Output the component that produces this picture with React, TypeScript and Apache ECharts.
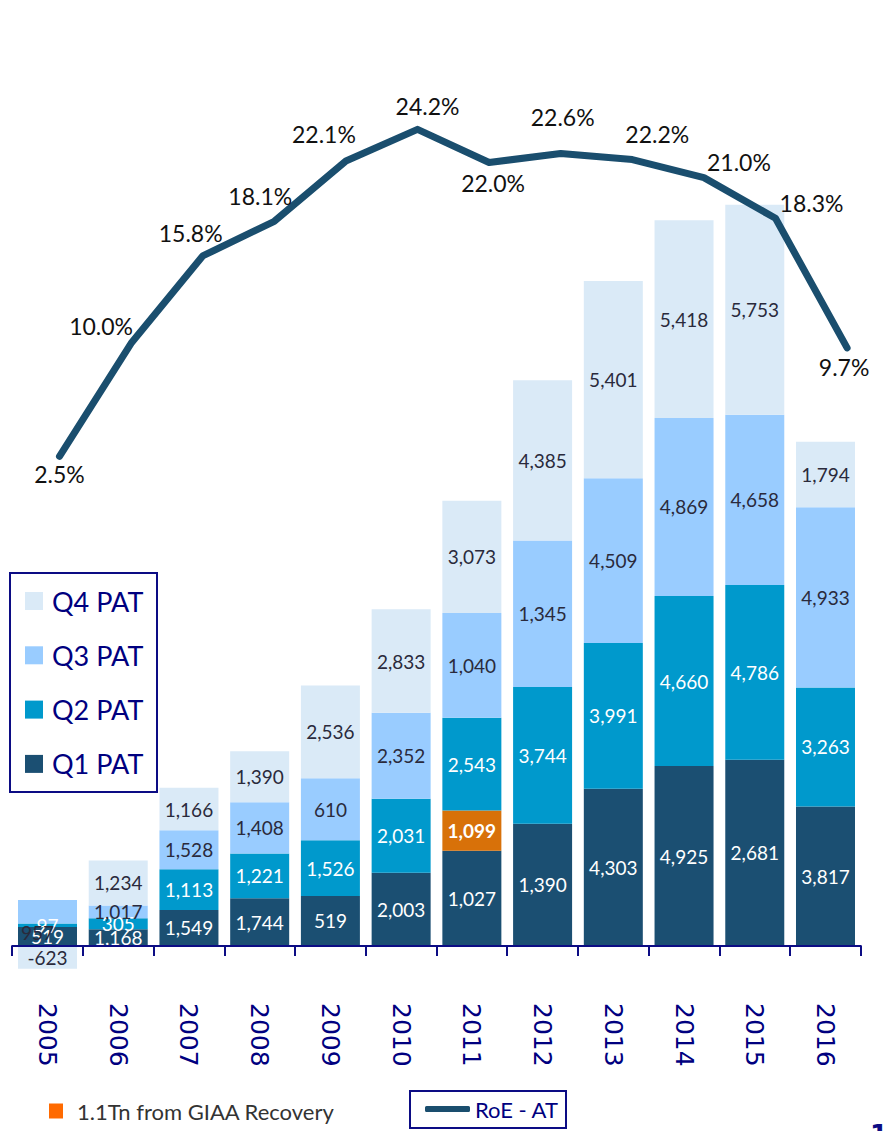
import React, { useEffect, useRef } from 'react';
import * as echarts from 'echarts';

// ---------- data ----------
const years = ['2005', '2006', '2007', '2008', '2009', '2010', '2011', '2012', '2013', '2014', '2015', '2016'];

// segment sizes as drawn (PAT, stacked)
const q1Values = [519, 457, 986, 1310, 1369, 2003, 2609, 3349, 4303, 4925, 5100, 3817];
const giaaValues: (number | null)[] = [null, null, null, null, null, null, 1099, null, null, null, null, null];
const q2Values = [97, 305, 1113, 1221, 1526, 2031, 2543, 3744, 3991, 4660, 4786, 3263];
const q3Values = [640, 348, 1068, 1408, 1698, 2352, 2869, 4008, 4509, 4869, 4658, 4933];
const q4Values = [-623, 1234, 1166, 1390, 2536, 2833, 3073, 4385, 5401, 5418, 5753, 1794];

// printed labels
const q1Labels = ['519', '1,168', '1,549', '1,744', '519', '2,003', '1,027', '1,390', '4,303', '4,925', '2,681', '3,817'];
const giaaLabels = ['', '', '', '', '', '', '1,099', '', '', '', '', ''];
const q2Labels = ['97', '305', '1,113', '1,221', '1,526', '2,031', '2,543', '3,744', '3,991', '4,660', '4,786', '3,263'];
const q3Labels = ['957', '1,017', '1,528', '1,408', '610', '2,352', '1,040', '1,345', '4,509', '4,869', '4,658', '4,933'];
const q4Labels = ['-623', '1,234', '1,166', '1,390', '2,536', '2,833', '3,073', '4,385', '5,401', '5,418', '5,753', '1,794'];

// RoE after tax (%)
const roeValues = [2.5, 10.0, 15.8, 18.1, 22.1, 24.2, 22.0, 22.6, 22.2, 21.0, 18.3, 9.7];
const roeLabels = ['2.5%', '10.0%', '15.8%', '18.1%', '22.1%', '24.2%', '22.0%', '22.6%', '22.2%', '21.0%', '18.3%', '9.7%'];

// ---------- layout / style ----------
const roeLabelOffsets: [number, number][] = [
  [0, 18], [-30, -17], [-12, -23], [-14, -25], [-22, -27], [10, -23],
  [4, 20], [2, -36], [25, -26], [35, -16], [36, -15], [-3, 19],
];
const q3LabelOffsets: Record<number, [number, number]> = { 0: [-10, 21] };

const NAVY = '#0C0C84';
const TXT_NAVY = '#00007F';
const C_Q1 = '#1B4F72';
const C_Q2 = '#0099CC';
const C_Q3 = '#99CCFF';
const C_Q4 = '#DAEAF7';
const C_GIAA = '#D87109';
const C_GIAA_LEG = '#FF6A00';
const C_LINE = '#1A4E6E';
const DARK_LBL = '#2A2A3C';
const FONT = 'Lato';

function barSeries(name: string, values: (number | null)[], labels: string[], color: string, labelColor: string, bold = false, offsets: Record<number, [number, number]> = {}) {
  return {
    name,
    type: 'bar',
    stack: 'pat',
    xAxisIndex: 0,
    yAxisIndex: 0,
    barWidth: 59,
    clip: false,
    itemStyle: { color },
    data: values.map((v, i) =>
      offsets[i] ? { value: v, label: { offset: offsets[i] } } : v
    ),
    label: {
      show: true,
      position: 'inside',
      fontFamily: FONT,
      fontSize: 19,
      fontWeight: bold ? 'bold' : 'normal',
      color: labelColor,
      formatter: (p: any) => labels[p.dataIndex] || '',
    },
  };
}

export default function App() {
  const ref = useRef<HTMLDivElement>(null);

  useEffect(() => {
    if (!ref.current) return;
    const chart = echarts.init(ref.current, undefined, { renderer: 'svg' });

    const option: any = {
      animation: false,
      backgroundColor: '#ffffff',
      grid: [
        { left: 12.14, right: 24.14, top: 42, bottom: 185 },
        { left: 23.7, right: 2.1, top: 42, bottom: 185 },
      ],
      xAxis: [
        {
          type: 'category',
          gridIndex: 0,
          data: years,
          z: 10,
          axisLine: { show: true, lineStyle: { color: NAVY, width: 2 } },
          axisTick: { show: true, interval: 0, alignWithLabel: false, length: 10, lineStyle: { color: NAVY, width: 2 } },
          axisLabel: {
            interval: 0,
            rotate: -90,
            margin: 57,
            fontSize: 25,
            fontFamily: 'DejaVu Sans',
            color: TXT_NAVY,
          },
          splitLine: { show: false },
        },
        { type: 'category', gridIndex: 1, data: years, show: false },
      ],
      yAxis: [
        { type: 'value', gridIndex: 0, min: 0, max: 24750, show: false, splitLine: { show: false } },
        { type: 'value', gridIndex: 1, min: -30, max: 30, show: false, splitLine: { show: false } },
      ],
      legend: [
        {
          data: ['Q4 PAT', 'Q3 PAT', 'Q2 PAT', 'Q1 PAT'],
          orient: 'vertical',
          left: 25,
          top: 587.5,
          padding: 0,
          itemWidth: 18,
          itemHeight: 18,
          itemGap: 27.3,
          icon: 'rect',
          selectedMode: false,
          textStyle: { fontSize: 27, lineHeight: 27, color: TXT_NAVY, fontFamily: FONT, padding: [0, 0, 0, 4] },
        },
        {
          data: [{ name: '1.1Tn from GIAA Recovery', itemStyle: { color: C_GIAA_LEG } }],
          left: 49,
          top: 1100,
          padding: 0,
          itemWidth: 14,
          itemHeight: 15,
          icon: 'rect',
          selectedMode: false,
          textStyle: { fontSize: 22, lineHeight: 22, color: '#333333', fontFamily: FONT, padding: [0, 0, 0, 9] },
        },
        {
          data: ['RoE - AT'],
          left: 425,
          top: 1098,
          padding: 0,
          itemWidth: 45,
          itemHeight: 6,
          icon: 'roundRect',
          selectedMode: false,
          textStyle: { fontSize: 22, lineHeight: 22, color: TXT_NAVY, fontFamily: FONT },
        },
      ],
      graphic: [
        {
          type: 'rect',
          shape: { x: 10, y: 573, width: 147, height: 219 },
          style: { fill: 'none', stroke: NAVY, lineWidth: 2 },
          silent: true,
        },
        {
          type: 'rect',
          shape: { x: 410, y: 1091, width: 156, height: 37 },
          style: { fill: 'none', stroke: NAVY, lineWidth: 2 },
          silent: true,
        },
        {
          type: 'text',
          x: 870,
          y: 1122,
          style: { text: '1', fontSize: 26, fontWeight: 'bold', fill: NAVY, fontFamily: 'DejaVu Sans' },
          silent: true,
        },
      ],
      series: [
        barSeries('Q1 PAT', q1Values, q1Labels, C_Q1, '#FFFFFF'),
        barSeries('1.1Tn from GIAA Recovery', giaaValues, giaaLabels, C_GIAA, '#FFFFFF', true),
        barSeries('Q2 PAT', q2Values, q2Labels, C_Q2, '#FFFFFF'),
        barSeries('Q3 PAT', q3Values, q3Labels, C_Q3, DARK_LBL, false, q3LabelOffsets),
        barSeries('Q4 PAT', q4Values, q4Labels, C_Q4, DARK_LBL),
        {
          name: 'RoE - AT',
          type: 'line',
          xAxisIndex: 1,
          yAxisIndex: 1,
          symbol: 'circle',
          symbolSize: 2,
          itemStyle: { color: C_LINE },
          lineStyle: { color: C_LINE, width: 7, cap: 'round', join: 'round' },
          z: 5,
          data: roeValues.map((v, i) => ({
            value: v,
            label: { offset: roeLabelOffsets[i] },
          })),
          label: {
            show: true,
            position: 'inside',
            fontFamily: FONT,
            fontSize: 23,
            color: '#111111',
            formatter: (p: any) => roeLabels[p.dataIndex],
          },
        },
      ],
    };

    chart.setOption(option);
    return () => chart.dispose();
  }, []);

  return (
    <div
      ref={ref}
      style={{ position: 'absolute', left: 0, top: 0, width: 885, height: 1131, background: '#fff' }}
    />
  );
}
